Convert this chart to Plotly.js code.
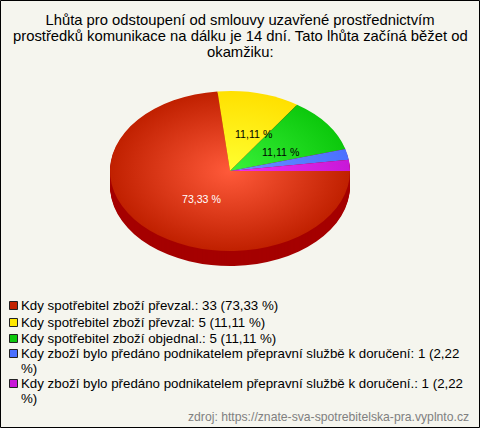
<!DOCTYPE html>
<html><head><meta charset="utf-8">
<script src="https://cdn.plot.ly/plotly-3.0.1.min.js"></script>
<style>html,body{margin:0;padding:0;background:#f5f5ee}</style></head>
<body><div id="chart" style="width:480px;height:428px"></div>
<script>
const titleLines = ["Lhůta pro odstoupení od smlouvy uzavřené prostřednictvím","prostředků komunikace na dálku je 14 dní. Tato lhůta začíná běžet od","okamžiku:"];
const titleY = [20,36,52];
const categories = ["Kdy spotřebitel zboží převzal.","Kdy spotřebitel zboží převzal","Kdy spotřebitel zboží objednal.","Kdy zboží bylo předáno podnikatelem přepravní službě k doručení","Kdy zboží bylo předáno podnikatelem přepravní službě k doručení."];
const counts = [33,5,5,1,1];
const percentText = ["73,33 %","11,11 %","11,11 %","2,22 %","2,22 %"];
const legendText = [
 "Kdy spotřebitel zboží převzal.: 33 (73,33 %)",
 "Kdy spotřebitel zboží převzal: 5 (11,11 %)",
 "Kdy spotřebitel zboží objednal.: 5 (11,11 %)",
 "Kdy zboží bylo předáno podnikatelem přepravní službě k doručení: 1 (2,22",
 "Kdy zboží bylo předáno podnikatelem přepravní službě k doručení.: 1 (2,22"];
const legendWrap = ["","","","%)","%)"];
const legendY = [305,322,338,353,383];
const swatchColors = ["#c42200","#ffe800","#0cc80c","#4a70ff","#c818d8"];
const centerColors = ["#ff5a3a","#ffff30","#3af23a","#6a90ff","#f030f0"];
const edgeColors   = ["#c02000","#ffe000","#0cc80c","#4a70ff","#c818d8"];
const depthColor = "#a50000";
const sourceText = "zdroj: https://znate-sva-spotrebitelska-pra.vyplnto.cz";
const pieLabels = [{i:0,x:201.5,y:199,c:"#ffffff"},{i:1,x:254.5,y:134,c:"#000000"},{i:2,x:281,y:152,c:"#000000"}];

const W=480,H=428,cx=230,cy=171,R=120,squash=80/120,depth=15;
const FONT='"Liberation Sans",Arial,sans-serif';
const dom=(dy)=>({x:[(cx-R)/W,(cx+R)/W],y:[1-(cy+dy+R)/H,1-(cy+dy-R)/H]});
const pie=(colors,dy)=>({type:'pie',labels:categories,values:counts,sort:false,direction:'clockwise',rotation:90,
  textinfo:'none',hoverinfo:'skip',showlegend:false,domain:dom(dy),marker:{colors:colors,line:{width:0}}});
const traces=[];
for(let d=depth;d>0;d--) traces.push(pie(counts.map(()=>depthColor),d/squash));
traces.push(pie(swatchColors,0));

const annotations=[];
const note=(text,x,y,xanchor,size,color)=>annotations.push({xref:'paper',yref:'paper',x:x/W,y:1-y/H,xanchor,yanchor:'middle',showarrow:false,text,borderpad:0,font:{family:FONT,size,color}});
titleLines.slice(1).forEach((t,i)=>note(t,W/2,titleY[i+1],'center',14.8,'#000'));
legendText.forEach((t,i)=>{note(t,20,legendY[i],'left',13.3,'#000');if(legendWrap[i])note(legendWrap[i],20,legendY[i]+15,'left',13.3,'#000');});
pieLabels.forEach(p=>note(percentText[p.i],p.x,p.y,'center',10.6,p.c));
note(sourceText,470,417,'right',12.2,'#808080');

const shapes=[{type:'rect',xref:'paper',yref:'paper',x0:0.5/W,x1:(W-0.5)/W,y0:0.5/H,y1:(H-0.5)/H,line:{color:'#000',width:1}}];
legendY.forEach((y,i)=>shapes.push({type:'rect',xref:'paper',yref:'paper',x0:9.5/W,x1:17.5/W,y0:1-(y+4.5)/H,y1:1-(y-3.5)/H,fillcolor:swatchColors[i],line:{color:'#222',width:1}}));

Plotly.newPlot('chart',traces,{width:W,height:H,margin:{l:0,r:0,t:0,b:0},paper_bgcolor:'#f5f5ee',
  title:{text:titleLines[0],x:0.5,xanchor:'center',y:1-titleY[0]/H,yanchor:'middle',font:{family:FONT,size:14.8,color:'#000'}},
  annotations,shapes},{staticPlot:true}).then(gd=>{
  const layer=gd.querySelector('.pielayer');
  layer.setAttribute('transform',`translate(0,${cy}) scale(1,${squash}) translate(0,${-cy})`);
  const top=gd.calcdata[gd.calcdata.length-1][0];
  const svg=gd.querySelector('.main-svg');
  const defs=document.createElementNS('http://www.w3.org/2000/svg','defs');
  svg.insertBefore(defs,svg.firstChild);
  const tr=layer.querySelectorAll('.trace');
  const slices=tr[tr.length-1].querySelectorAll('.slice path.surface');
  slices.forEach((p,i)=>{
    const g=document.createElementNS('http://www.w3.org/2000/svg','radialGradient');
    g.setAttribute('id','sliceGrad'+i);g.setAttribute('gradientUnits','userSpaceOnUse');
    g.setAttribute('cx',top.cx);g.setAttribute('cy',top.cy);g.setAttribute('r',top.r);
    [[0,centerColors[i]],[1,edgeColors[i]]].forEach(s=>{const st=document.createElementNS('http://www.w3.org/2000/svg','stop');
      st.setAttribute('offset',s[0]);st.setAttribute('stop-color',s[1]);g.appendChild(st);});
    defs.appendChild(g);
    p.style.fill=`url(#sliceGrad${i})`;
  });
});
</script></body></html>
